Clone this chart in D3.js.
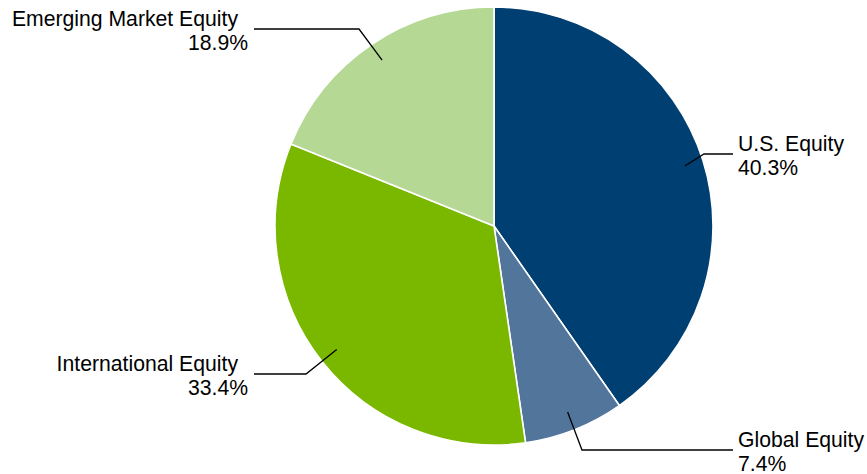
<!DOCTYPE html>
<html>
<head>
<meta charset="utf-8">
<script src="https://cdn.jsdelivr.net/npm/d3@7"></script>
<style>
  html, body { margin: 0; padding: 0; background: #fff; }
  svg { display: block; }
  text { font-family: "Liberation Sans", Arial, sans-serif; font-size: 21.2px; fill: #000; }
</style>
</head>
<body>
<svg id="chart" width="867" height="474"></svg>
<script>
// Asset allocation, clockwise from 12 o'clock
const categories = ["U.S. Equity", "Global Equity", "International Equity", "Emerging Market Equity"];
const shares = [40.3, 7.4, 33.4, 18.9];
const colors = ["#003f72", "#52759b", "#7ab800", "#b5d994"];

// Callout placement: bend point of each leader line, where the line stops, and text side
const callouts = [
  { elbow: [704, 154], end: 733, side: "right" },
  { elbow: [582, 450], end: 733, side: "right" },
  { elbow: [306, 374], end: 254, side: "left" },
  { elbow: [359, 29],  end: 254, side: "left" }
];

const svg = d3.select("#chart");
const cx = 494, cy = 226, radius = 219;

const pie = d3.pie().sort(null).value(d => d);
const arcs = pie(shares);

const arc = d3.arc().innerRadius(0).outerRadius(radius);
const anchorArc = d3.arc().innerRadius(200).outerRadius(200);

const g = svg.append("g").attr("transform", `translate(${cx},${cy})`);

g.selectAll("path.slice")
  .data(arcs)
  .join("path")
  .attr("class", "slice")
  .attr("d", arc)
  .attr("fill", (d, i) => colors[i])
  .attr("stroke", "#fff")
  .attr("stroke-width", 1.6)
  .attr("stroke-linejoin", "round");

// Leader lines from inside each slice to its label
const labels = svg.append("g");
arcs.forEach((d, i) => {
  const c = callouts[i];
  const [ax, ay] = anchorArc.centroid(d);
  const start = [cx + ax, cy + ay];
  const pts = [start, c.elbow, [c.end, c.elbow[1]]];
  labels.append("path")
    .attr("d", d3.line()(pts))
    .attr("fill", "none")
    .attr("stroke", "#000")
    .attr("stroke-width", 1.3);

  const right = c.side === "right";
  const y = c.elbow[1];
  labels.append("text")
    .attr("x", right ? c.end + 5 : c.end - 16)
    .attr("y", y - 3)
    .attr("text-anchor", right ? "start" : "end")
    .text(categories[i]);
  labels.append("text")
    .attr("x", right ? c.end + 5 : c.end - 6)
    .attr("y", y + 20.5)
    .attr("text-anchor", right ? "start" : "end")
    .text(d3.format(".1f")(shares[i]) + "%");
});
</script>
</body>
</html>
